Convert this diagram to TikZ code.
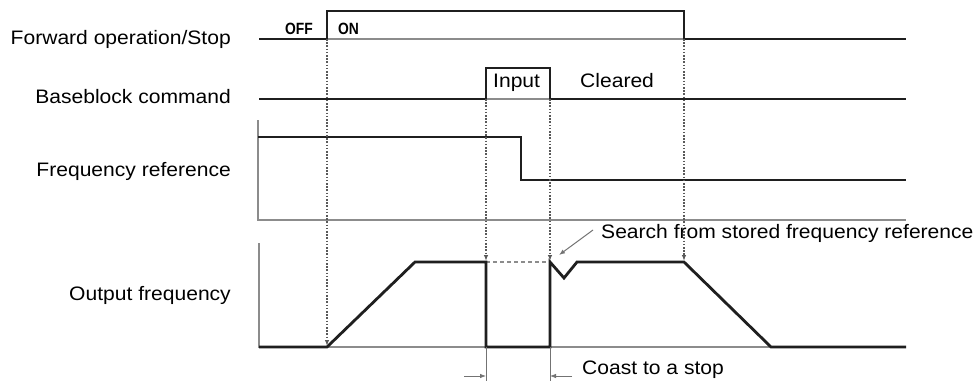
\documentclass[tikz,border=0pt]{standalone}
\usepackage{fontspec}
\setmainfont{Liberation Sans}
\usetikzlibrary{arrows.meta}
\newcommand\stretchtxt[1]{\scalebox{1.08}[1]{#1}}
\newcommand\narrowtxt[1]{\scalebox{0.85}[1]{#1}}
\begin{document}
\begin{tikzpicture}[x=1pt,y=-1pt,
  sig/.style={line width=2.8pt, black!88, line join=miter},
  base/.style={line width=1.6pt, black!45},
  dots/.style={line width=1.9pt, black!65, dash pattern=on 1.6pt off 1.6pt},
  thin/.style={line width=0.8pt, black!55},
  lbl/.style={font=\fontsize{19.5}{23}\selectfont, inner sep=0pt},
  tag/.style={font=\bfseries\fontsize{16.3}{18}\selectfont, inner sep=0pt},
  tip/.style={-{Latex[length=6pt,width=4.5pt]}}]
\fill[white] (0,0) rectangle (980,381);
\useasboundingbox (0,0) rectangle (980,381);

% labels
\node[lbl, anchor=base east] (fwd) at (231,44) {\stretchtxt{Forward operation/Stop}};
\node[lbl, anchor=base east] (bb) at (231,103) {\stretchtxt{Baseblock command}};
\node[lbl, anchor=base east] (fref) at (231,176) {\stretchtxt{Frequency reference}};
\node[lbl, anchor=base east] (ofreq) at (231,300) {\stretchtxt{Output frequency}};

% forward operation / stop
\draw[base] (327,39) -- (684,39);
\draw[sig] (259,39) -- (327,39) -- (327,11) -- (684,11) -- (684,39) -- (906,39);
\node[tag, anchor=base west] (off) at (285,34) {\narrowtxt{OFF}};
\node[tag, anchor=base west] (on) at (338,34) {\narrowtxt{ON}};

% baseblock
\draw[base] (486,99) -- (550,99);
\draw[sig] (259,99) -- (486,99) -- (486,68) -- (550,68) -- (550,99) -- (906,99);
\node[lbl, anchor=base west] (input) at (493,87) {\stretchtxt{Input}};
\node[lbl, anchor=base west] (cleared) at (580,87) {\stretchtxt{Cleared}};

% frequency reference
\draw[base] (258,120) -- (258,220) -- (906,220);
\draw[sig] (258,137) -- (521,137) -- (521,180) -- (906,180);

% output frequency
\draw[base] (259,243) -- (259,347) -- (906,347);
\draw[base, line width=1.2pt, dash pattern=on 4pt off 3pt] (486,262) -- (550,262);
\draw[sig] (259,347) -- (327,347) -- (415,262) -- (486,262) -- (486,347) -- (550,347)
  -- (550,262) -- (564,278) -- (577,262) -- (684,262) -- (771,347) -- (906,347);

% dotted timing lines
\draw[dots, tip] (327,39) -- (327,346);
\draw[dots, tip] (486,99) -- (486,261);
\draw[dots, tip] (550,99) -- (550,261);
\draw[dots, tip] (684,39) -- (684,261);

% search annotation
\node[lbl, anchor=base west] (search) at (601,238) {\stretchtxt{Search from stored frequency reference}};
\coordinate (sa) at (593,230);
\coordinate (sb) at (559,255);
\draw[thin, line width=1pt, tip] (sa) -- (sb);

% coast to a stop
\coordinate (c1) at (486,347);
\coordinate (c2) at (486,381);
\coordinate (c3) at (550,347);
\coordinate (c4) at (550,381);
\draw[thin] (c1) -- (c2);
\draw[thin] (c3) -- (c4);
\coordinate (ca) at (464,376);
\coordinate (cb) at (486,376);
\coordinate (cc) at (572,376);
\coordinate (cd) at (550,376);
\draw[thin, tip] (ca) -- (cb);
\draw[thin, tip] (cc) -- (cd);
\node[lbl, anchor=base west] (coast) at (582,374) {\stretchtxt{Coast to a stop}};
\end{tikzpicture}
\end{document}
